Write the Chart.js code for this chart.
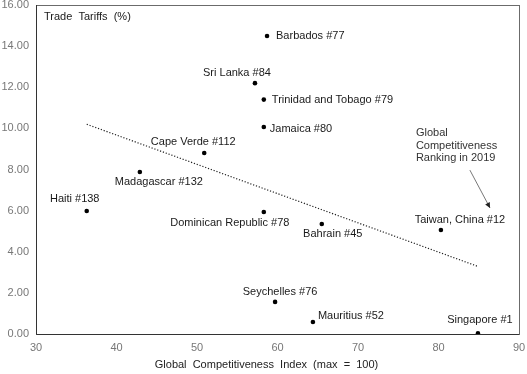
<!DOCTYPE html>
<html>
<head>
<meta charset="utf-8">
<script src="https://cdn.jsdelivr.net/npm/chart.js@4/dist/chart.umd.min.js"></script>
<style>
  html, body { margin: 0; padding: 0; background: #fff; }
  #wrap { width: 527px; height: 374px; }
</style>
</head>
<body>
<div id="wrap"><canvas id="chart"></canvas></div>
<script>
// data
const countries = ['Barbados #77', 'Sri Lanka #84', 'Trinidad and Tobago #79', 'Jamaica #80',
  'Cape Verde #112', 'Madagascar #132', 'Haiti #138', 'Dominican Republic #78', 'Bahrain #45',
  'Taiwan, China #12', 'Seychelles #76', 'Mauritius #52', 'Singapore #1'];
const competitiveness = [58.7, 57.2, 58.3, 58.3, 50.9, 42.9, 36.3, 58.3, 65.5, 80.3, 59.7, 64.4, 84.9];
const tariffs = [14.49, 12.2, 11.4, 10.07, 8.8, 7.88, 5.98, 5.93, 5.35, 5.06, 1.56, 0.58, 0.04];

const trendX = [36.3, 84.8];
const trendY = [10.2, 3.3];

const arrowX = [83.9, 86.4];
const arrowY = [7.97, 6.13];
const noteLines = ['Global', 'Competitiveness', 'Ranking in 2019'];

const xTicks = [30, 40, 50, 60, 70, 80, 90];
const yTicks = [0, 2, 4, 6, 8, 10, 12, 14, 16];

const yAxisLabel = 'Trade  Tariffs  (%)';
const xAxisLabel = 'Global  Competitiveness  Index  (max  =  100)';

// where each name sits relative to its dot: [dx, dy, align]
const labelPlace = [
  [9, 0, 'left'], [-18, -10, 'center'], [8, 0, 'left'], [6, 2, 'left'],
  [-11, -11, 'center'], [19, 10, 'center'], [-12, -12, 'center'], [-34, 11, 'center'],
  [11, 10, 'center'], [19, -10, 'center'], [5, -10, 'center'], [5, -6, 'left'], [2, -13, 'center']
];

const FONT = '"Liberation Sans", Arial, sans-serif';

const points = competitiveness.map((x, i) => ({ x: x, y: tariffs[i] }));
const trend = trendX.map((x, i) => ({ x: x, y: trendY[i] }));
const arrow = arrowX.map((x, i) => ({ x: x, y: arrowY[i] }));

const extras = {
  id: 'extras',
  afterDatasetsDraw(chart) {
    const ctx = chart.ctx;
    const area = chart.chartArea;
    const xs = chart.scales.x, ys = chart.scales.y;
    ctx.save();

    // frame
    ctx.strokeStyle = '#6b6b6b';
    ctx.lineWidth = 1;
    ctx.strokeRect(Math.round(area.left) + 0.5, Math.round(area.top) + 0.5,
      Math.round(area.right - area.left), Math.round(area.bottom - area.top));
    ctx.strokeStyle = '#333';
    ctx.beginPath();
    ctx.moveTo(Math.round(area.left) + 0.5, area.top);
    ctx.lineTo(Math.round(area.left) + 0.5, Math.round(area.bottom) + 0.5);
    ctx.lineTo(area.right, Math.round(area.bottom) + 0.5);
    ctx.stroke();

    // point names
    ctx.font = '11px ' + FONT;
    ctx.fillStyle = '#1a1a1a';
    ctx.textBaseline = 'middle';
    const meta = chart.getDatasetMeta(0);
    meta.data.forEach((pt, i) => {
      const p = labelPlace[i];
      ctx.textAlign = p[2];
      ctx.fillText(countries[i], pt.x + p[0], pt.y + p[1]);
    });

    // axis titles
    ctx.textAlign = 'left';
    ctx.fillText(yAxisLabel, area.left + 8, area.top + 12);
    ctx.textAlign = 'center';
    ctx.fillStyle = '#222';
    ctx.fillText(xAxisLabel, (area.left + area.right) / 2 - 11, area.bottom + 31);

    // note
    ctx.textAlign = 'left';
    ctx.fillStyle = '#333';
    const nx = xs.getPixelForValue(arrowX[0]) - 54;
    const ny = ys.getPixelForValue(arrowY[0]) - 37;
    noteLines.forEach((t, i) => ctx.fillText(t, nx, ny + i * 12.5));

    // arrow head
    const a = chart.getDatasetMeta(2).data;
    const x0 = a[0].x, y0 = a[0].y, x1 = a[1].x, y1 = a[1].y;
    const ang = Math.atan2(y1 - y0, x1 - x0);
    const len = 6, half = 0.45;
    ctx.fillStyle = '#222';
    ctx.beginPath();
    ctx.moveTo(x1, y1);
    ctx.lineTo(x1 - len * Math.cos(ang - half), y1 - len * Math.sin(ang - half));
    ctx.lineTo(x1 - len * Math.cos(ang + half), y1 - len * Math.sin(ang + half));
    ctx.closePath();
    ctx.fill();
    ctx.restore();
  }
};

new Chart(document.getElementById('chart'), {
  type: 'scatter',
  data: {
    datasets: [{
      data: points,
      pointRadius: 2.3,
      pointBackgroundColor: '#000',
      pointBorderWidth: 0,
      order: 0
    }, {
      type: 'line',
      data: trend,
      borderColor: '#222',
      borderWidth: 1.2,
      borderDash: [1.2, 1.8],
      pointRadius: 0,
      fill: false,
      order: 1
    }, {
      type: 'line',
      data: arrow,
      borderColor: '#555',
      borderWidth: 0.8,
      pointRadius: 0,
      fill: false,
      order: 2
    }]
  },
  options: {
    responsive: true,
    maintainAspectRatio: false,
    animation: false,
    layout: { padding: { top: 5, right: 8, left: 0, bottom: 0 } },
    plugins: { legend: { display: false }, tooltip: { enabled: false } },
    scales: {
      x: {
        type: 'linear',
        min: 30, max: 90,
        afterBuildTicks: s => { s.ticks = xTicks.map(v => ({ value: v })); },
        afterFit: s => { s.height = 40; s.paddingLeft = 0; s.paddingRight = 0; },
        grid: { display: false, drawTicks: false },
        border: { display: false },
        ticks: { padding: 7, color: '#777', font: { family: FONT, size: 11 } }
      },
      y: {
        type: 'linear',
        min: 0, max: 16,
        afterBuildTicks: s => { s.ticks = yTicks.map(v => ({ value: v })); },
        afterFit: s => { s.width = 36; s.paddingTop = 0; s.paddingBottom = 0; },
        grid: { display: false, drawTicks: false },
        border: { display: false },
        ticks: {
          padding: 7, color: '#777', font: { family: FONT, size: 11 },
          callback: v => v.toFixed(2)
        }
      }
    }
  },
  plugins: [extras]
});
</script>
</body>
</html>
